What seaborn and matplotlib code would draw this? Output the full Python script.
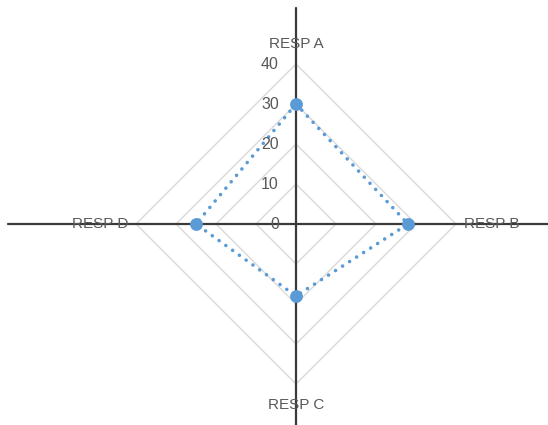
import matplotlib
matplotlib.use("Agg")
import matplotlib.pyplot as plt
import seaborn as sns
import pandas as pd

categories = ["RESP A", "RESP B", "RESP C", "RESP D"]
values = [30, 28, 18, 25]
ticks = [0, 10, 20, 30, 40]
tick_labels = ["0", "10", "20", "30", "40"]

sns.set_theme(style="white")
plt.rcParams["font.family"] = ["Liberation Sans", "DejaVu Sans"]

# spoke directions: A up, B right, C down, D left
directions = {"RESP A": (0, 1), "RESP B": (1, 0), "RESP C": (0, -1), "RESP D": (-1, 0)}

fig = plt.figure(figsize=(5.48, 4.25), dpi=100)
ax = fig.add_axes([0, 0, 1, 1])
ax.set_xlim(-74, 63)
ax.set_ylim(-50.25, 56)
ax.axis("off")

text_color = "#595959"
grid_color = "#d9d9d9"
series_color = "#5b9bd5"

# concentric diamond grid
for r in ticks[1:]:
    gx = [0, r, 0, -r, 0]
    gy = [r, 0, -r, 0, r]
    ax.plot(gx, gy, color=grid_color, lw=1.0, zorder=1)

# crossing axes
ax.plot([-72, 63], [0, 0], color="#3a3a3a", lw=1.6, zorder=2)
ax.plot([0, 0], [-50.25, 54], color="#3a3a3a", lw=1.6, zorder=2)

# series
df = pd.DataFrame({
    "cat": categories,
    "x": [directions[c][0] * v for c, v in zip(categories, values)],
    "y": [directions[c][1] * v for c, v in zip(categories, values)],
})
closed = pd.concat([df, df.iloc[[0]]], ignore_index=True)
sns.lineplot(data=closed, x="x", y="y", sort=False, estimator=None, ax=ax,
             color=series_color, lw=2.6, linestyle=(0, (0.01, 2.3)), zorder=3)
ax.lines[-1].set_dash_capstyle("round")
sns.scatterplot(data=df, x="x", y="y", ax=ax, color=series_color, s=85,
                edgecolor=series_color, linewidth=0, zorder=4)

# tick labels along the top spoke
for t, lab in zip(ticks, tick_labels):
    ax.text(-4.3, t, lab, ha="right", va="center", fontsize=11.5, color=text_color, zorder=5)

# category labels
ax.text(0, 45, "RESP A", ha="center", va="center", fontsize=11, color=text_color, zorder=5)
ax.text(49, 0, "RESP B", ha="center", va="center", fontsize=11, color=text_color, zorder=5)
ax.text(0, -45.2, "RESP C", ha="center", va="center", fontsize=11, color=text_color, zorder=5)
ax.text(-49, 0, "RESP D", ha="center", va="center", fontsize=11, color=text_color, zorder=5)

ax.set_xlabel("")
ax.set_ylabel("")
fig.savefig("out.png", dpi=100)
